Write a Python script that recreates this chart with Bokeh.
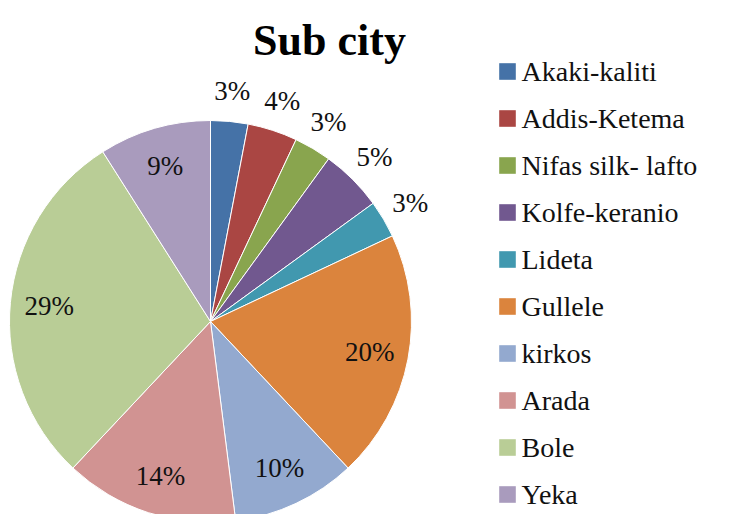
import math
from bokeh.plotting import figure
from bokeh.models import ColumnDataSource, Range1d
from bokeh.core.properties import value
from bokeh.embed import file_html
from bokeh.resources import INLINE

# ---- data ----
categories = ["Akaki-kaliti", "Addis-Ketema", "Nifas silk- lafto", "Kolfe-keranio",
              "Lideta", "Gullele", "kirkos", "Arada", "Bole", "Yeka"]
shares = [3, 4, 3, 5, 3, 20, 10, 14, 29, 9]
colors = ["#4572A7", "#AA4643", "#89A54E", "#71588F", "#4198AF",
          "#DB843D", "#93A9CF", "#D19392", "#B9CD96", "#A99BBD"]
title_text = "Sub city"

W, H = 713, 514
FONT = value("Liberation Serif")

# reference page coords -> figure data coords (figure sits at page offset 8,8)
def px(x):
    return x - 8

def py(y):
    return (H + 8) - y

p = figure(width=W, height=H, x_range=Range1d(0, W), y_range=Range1d(0, H),
           output_backend="svg", toolbar_location=None,
           x_axis_type=None, y_axis_type=None, min_border=0)
p.grid.visible = False
p.outline_line_color = None
p.background_fill_color = "white"

cx, cy, R = px(218), py(329), 201
total = sum(shares)
starts, ends, lx, ly, labels = [], [], [], [], []
cum = 0
for v in shares:
    a0 = math.pi / 2 - 2 * math.pi * cum / total
    cum += v
    a1 = math.pi / 2 - 2 * math.pi * cum / total
    starts.append(a0)
    ends.append(a1)
    mid = (a0 + a1) / 2
    r = 232 if v / total < 0.07 else 162
    lx.append(cx + r * math.cos(mid))
    ly.append(cy + r * math.sin(mid))
    labels.append(f"{round(100 * v / total)}%")

src = ColumnDataSource(dict(start=starts, end=ends, color=colors,
                            lx=lx, ly=ly, label=labels))
p.wedge(x=cx, y=cy, radius=R, start_angle="start", end_angle="end",
        direction="clock", fill_color="color", line_color="white",
        line_width=1, source=src)
p.text(x="lx", y="ly", text="label", source=src, text_font=FONT,
       text_font_size="27px", text_align="center", text_baseline="middle",
       text_color="#111111")

# title
p.text(x=[px(337)], y=[py(48)], text=[title_text], text_font=FONT,
       text_font_size="44px", text_font_style="bold", text_align="center",
       text_baseline="alphabetic", text_color="#000000")

# legend
n = len(categories)
leg_y = [py(79 + 47.0 * i) for i in range(n)]
leg = ColumnDataSource(dict(y=leg_y, name=categories, color=colors))
p.rect(x=px(515), y="y", width=16, height=16, fill_color="color",
       line_color="color", line_alpha=0.6, source=leg)
p.text(x=px(529), y="y", text="name", source=leg, text_font=FONT,
       text_font_size="28px", text_align="left", text_baseline="middle",
       text_color="#111111")

open("out.html", "w").write(file_html(p, INLINE))
